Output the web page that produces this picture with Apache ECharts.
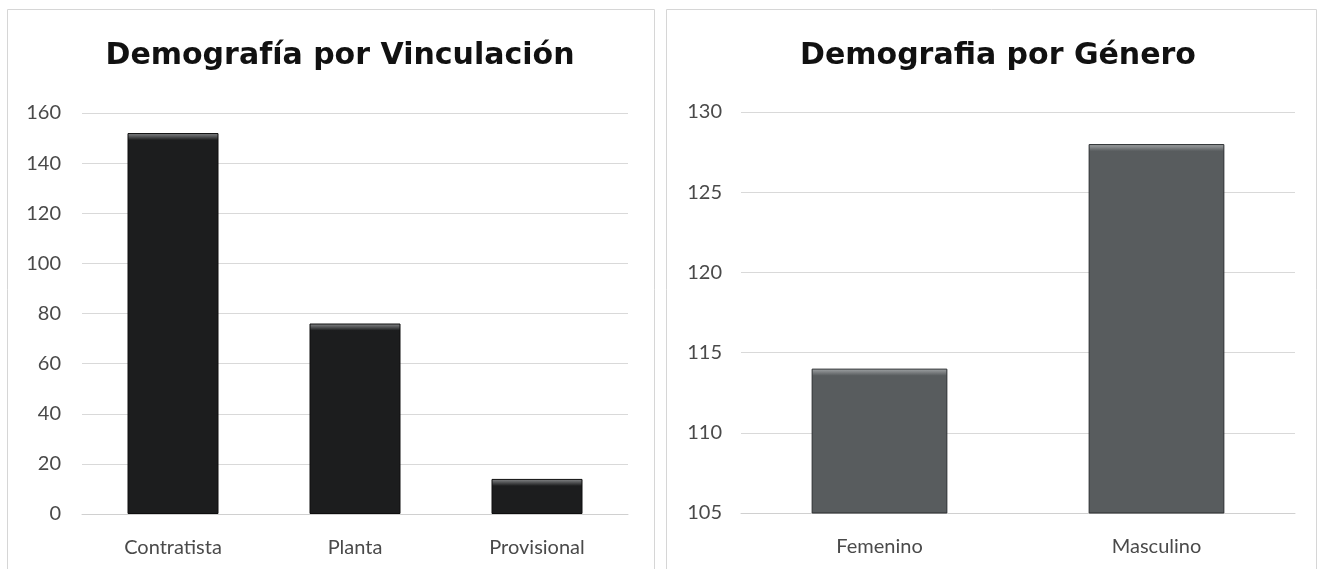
<!DOCTYPE html>
<html>
<head>
<meta charset="utf-8">
<script src="https://cdn.jsdelivr.net/npm/echarts@6/dist/echarts.min.js"></script>
<style>
html,body{margin:0;padding:0;background:#fff;}
#c{width:1322px;height:569px;}
</style>
</head>
<body>
<div id="c"></div>
<script>
// Data
const vinculacionCats = ['Contratista', 'Planta', 'Provisional'];
const vinculacionVals = [152, 76, 14];
const generoCats = ['Femenino', 'Masculino'];
const generoVals = [114, 128];
const titles = ['Demografía por Vinculación', 'Demografia por Género'];

const chart = echarts.init(document.getElementById('c'));
const labelFont = 'Lato';

function bevel(base, light, value, min, pxPerUnit) {
  const h = (value - min) * pxPerUnit;
  const s = Math.min(0.5, 7 / h);
  return {
    type: 'linear', x: 0, y: 0, x2: 0, y2: 1,
    colorStops: [
      {offset: 0, color: light},
      {offset: s, color: base},
      {offset: 1, color: base}
    ]
  };
}

const leftData = vinculacionVals.map(v => ({
  value: v,
  itemStyle: {color: bevel('#1c1d1e', '#8a8c8e', v, 0, 2.506)}
}));
const rightData = generoVals.map(v => ({
  value: v,
  itemStyle: {color: bevel('#585c5e', '#a4a7a9', v, 105, 16.04)}
}));

const axisLabelStyle = {color: '#4a4a4a', fontFamily: labelFont, fontSize: 20};
const titleStyle = {fontFamily: 'DejaVu Sans', fontWeight: 'bold', fontSize: 30, color: '#111'};

chart.setOption({
  animation: false,
  backgroundColor: '#fff',
  graphic: [
    {type: 'rect', shape: {x: 7.5, y: 9.5, width: 647, height: 570}, style: {fill: 'none', stroke: '#d6d6d6', lineWidth: 1}},
    {type: 'rect', shape: {x: 666.5, y: 9.5, width: 650, height: 570}, style: {fill: 'none', stroke: '#d6d6d6', lineWidth: 1}}
  ],
  title: [
    {text: titles[0], left: 335, top: 36, textAlign: 'center', textStyle: titleStyle},
    {text: titles[1], left: 993, top: 36, textAlign: 'center', textStyle: titleStyle}
  ],
  grid: [
    {left: 82, right: 694, top: 113, bottom: 55},
    {left: 741, right: 27, top: 112, bottom: 56}
  ],
  xAxis: [
    {type: 'category', gridIndex: 0, data: vinculacionCats,
     axisLine: {show: true, lineStyle: {color: '#d0d0d0'}}, axisTick: {show: false},
     axisLabel: Object.assign({margin: 24}, axisLabelStyle)},
    {type: 'category', gridIndex: 1, data: generoCats,
     axisLine: {show: true, lineStyle: {color: '#d0d0d0'}}, axisTick: {show: false},
     axisLabel: Object.assign({margin: 24}, axisLabelStyle)}
  ],
  yAxis: [
    {type: 'value', gridIndex: 0, min: 0, max: 160, interval: 20,
     axisLine: {show: false}, axisTick: {show: false},
     splitLine: {lineStyle: {color: '#d9d9d9'}},
     axisLabel: Object.assign({margin: 21}, axisLabelStyle)},
    {type: 'value', gridIndex: 1, min: 105, max: 130, interval: 5,
     axisLine: {show: false}, axisTick: {show: false},
     splitLine: {lineStyle: {color: '#d9d9d9'}},
     axisLabel: Object.assign({margin: 19}, axisLabelStyle)}
  ],
  series: [
    {type: 'bar', xAxisIndex: 0, yAxisIndex: 0, data: leftData, barWidth: '50%',
     itemStyle: {borderColor: '#0e0e0e', borderWidth: 1}},
    {type: 'bar', xAxisIndex: 1, yAxisIndex: 1, data: rightData, barWidth: '49%',
     itemStyle: {borderColor: '#2a2d2f', borderWidth: 1}}
  ]
});
</script>
</body>
</html>
